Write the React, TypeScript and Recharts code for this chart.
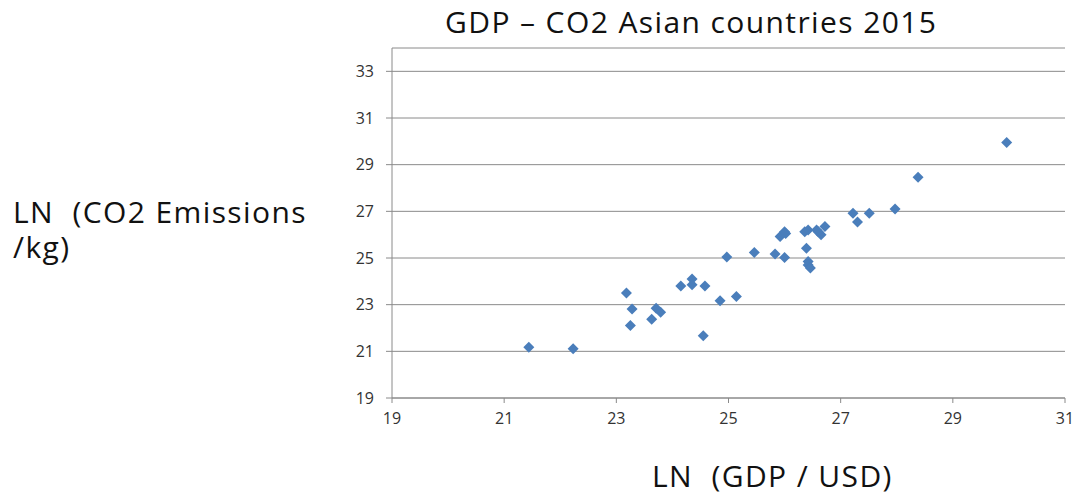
import { CartesianGrid, Scatter, ScatterChart, XAxis, YAxis } from "recharts";

const gdp = [
    21.44, 22.23, 23.18, 23.28, 23.25, 23.63, 23.71, 23.79, 24.15, 24.35,
    24.35, 24.58, 24.55, 24.85, 24.97, 25.14, 25.46, 25.83, 26.0, 25.92,
    26.0, 26.02, 26.36, 26.42, 26.39, 26.42, 26.42, 26.46, 26.57, 26.65,
    26.72, 26.6, 27.22, 27.3, 27.51, 27.97, 28.38, 29.96,
];
const co2 = [
    21.18, 21.11, 23.5, 22.81, 22.11, 22.38, 22.85, 22.68, 23.8, 24.1,
    23.85, 23.8, 21.67, 23.17, 25.04, 23.35, 25.24, 25.17, 25.02, 25.92,
    26.13, 26.05, 26.13, 26.2, 25.42, 24.85, 24.7, 24.57, 26.2, 26.0,
    26.35, 26.12, 26.92, 26.54, 26.92, 27.1, 28.46, 29.95,
];
const xTicks = [19, 21, 23, 25, 27, 29, 31];
const yTicks = [19, 21, 23, 25, 27, 29, 31, 33];

const points = gdp.map((x, i) => ({ x, y: co2[i] }));

const font = "'Open Sans', sans-serif";

function Diamond(props: any) {
    const { cx, cy } = props;
    const r = 5.5;
    return (
        <polygon
            points={`${cx},${cy - r} ${cx + r},${cy} ${cx},${cy + r} ${cx - r},${cy}`}
            fill="#4A7EBB"
        />
    );
}

export default function App() {
    return (
        <div style={{ position: "absolute", left: 0, top: 0, width: 1081, height: 492, background: "#fff", overflow: "hidden" }}>
            <ScatterChart width={1081} height={492} margin={{ top: 48, right: 16, bottom: 0, left: 0 }}>
                <CartesianGrid vertical={false} stroke="#8a8a8a" strokeWidth={1} />
                <XAxis
                    type="number"
                    dataKey="x"
                    domain={[19, 31]}
                    ticks={xTicks}
                    interval={0}
                    allowDataOverflow
                    height={94}
                    tickSize={5}
                    tickMargin={10}
                    stroke="#8a8a8a"
                    tick={{ fill: "#333", fontSize: 16, fontFamily: font }}
                />
                <YAxis
                    type="number"
                    dataKey="y"
                    domain={[19, 34]}
                    ticks={yTicks}
                    interval={0}
                    allowDataOverflow
                    width={392}
                    tickSize={6}
                    tickMargin={12}
                    stroke="#8a8a8a"
                    tick={{ fill: "#333", fontSize: 16, fontFamily: font }}
                />
                <Scatter data={points} shape={Diamond} isAnimationActive={false} />
            </ScatterChart>

            {/* titles */}
            <svg width={1081} height={492} style={{ position: "absolute", left: 0, top: 0, pointerEvents: "none" }}>
                <g fontFamily={font} fontSize={30} fill="#111" letterSpacing={1.4}>
                    <text x={445} y={33}>GDP – CO2 Asian countries 2015</text>
                    <text x={13} y={223}>{"LN\u00A0 (CO2 Emissions"}</text>
                    <text x={13} y={258}>/kg)</text>
                    <text x={652} y={487}>{"LN\u00A0 (GDP / USD)"}</text>
                </g>
            </svg>
        </div>
    );
}
